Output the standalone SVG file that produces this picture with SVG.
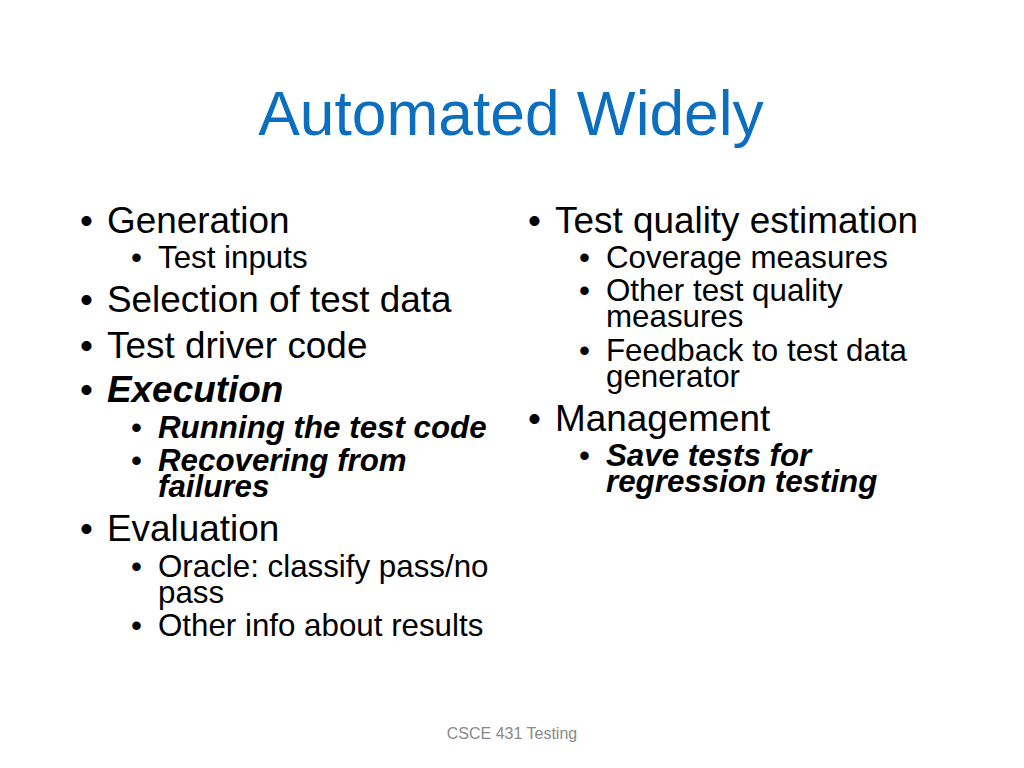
<svg xmlns="http://www.w3.org/2000/svg" width="1024" height="768" viewBox="0 0 1024 768">
<style>
text { font-family: "Liberation Sans", Arial, sans-serif; fill: #000; }
.title { font-size: 62.3px; fill: #0B6EBE; }
.l1 { font-size: 36.9px; }
.l2 { font-size: 31.3px; }
.bi { font-weight: bold; font-style: italic; }
.foot { font-size: 16px; fill: #8A8A8A; }
</style>
<rect width="1024" height="768" fill="#FFFFFF"/>
<g id="title"><text class="title" x="511" y="135" text-anchor="middle">Automated Widely</text></g>
<g id="left-column">
<text class="l1" x="80" y="233">•</text><text class="l1" x="107" y="233">Generation</text>
<text class="l2" x="131" y="268">•</text><text class="l2" x="158" y="268">Test inputs</text>
<text class="l1" x="80" y="312">•</text><text class="l1" x="107" y="312">Selection of test data</text>
<text class="l1" x="80" y="358">•</text><text class="l1" x="107" y="358">Test driver code</text>
<text class="l1" x="80" y="402">•</text><text class="l1 bi" x="107" y="402">Execution</text>
<text class="l2" x="131" y="438">•</text><text class="l2 bi" x="158" y="438">Running the test code</text>
<text class="l2" x="131" y="471">•</text><text class="l2 bi" x="158" y="471">Recovering from</text>
<text class="l2 bi" x="158" y="497">failures</text>
<text class="l1" x="80" y="541">•</text><text class="l1" x="107" y="541">Evaluation</text>
<text class="l2" x="131" y="577">•</text><text class="l2" x="158" y="577">Oracle: classify pass/no</text>
<text class="l2" x="158" y="603">pass</text>
<text class="l2" x="131" y="636">•</text><text class="l2" x="158" y="636">Other info about results</text>
</g>
<g id="right-column">
<text class="l1" x="528" y="233">•</text><text class="l1" x="555" y="233">Test quality estimation</text>
<text class="l2" x="579" y="268">•</text><text class="l2" x="606" y="268">Coverage measures</text>
<text class="l2" x="579" y="301">•</text><text class="l2" x="606" y="301">Other test quality</text>
<text class="l2" x="606" y="327">measures</text>
<text class="l2" x="579" y="361">•</text><text class="l2" x="606" y="361">Feedback to test data</text>
<text class="l2" x="606" y="387">generator</text>
<text class="l1" x="528" y="431">•</text><text class="l1" x="555" y="431">Management</text>
<text class="l2" x="579" y="466">•</text><text class="l2 bi" x="606" y="466">Save tests for</text>
<text class="l2 bi" x="606" y="492">regression testing</text>
</g>
<g id="footer"><text class="foot" x="512" y="739" text-anchor="middle">CSCE 431 Testing</text></g>
</svg>
